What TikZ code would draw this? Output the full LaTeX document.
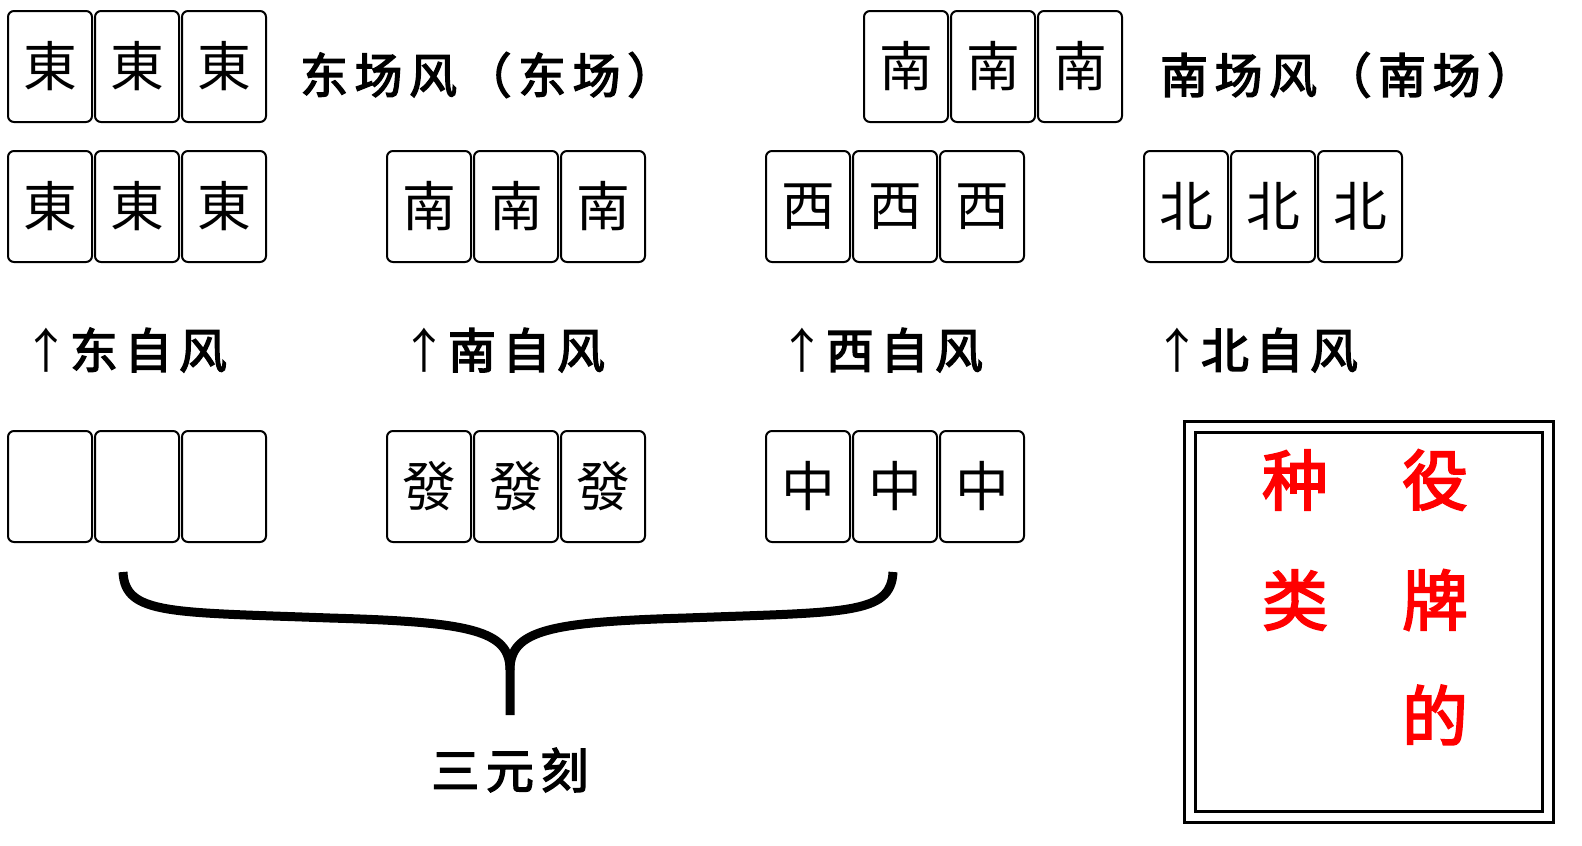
\documentclass[tikz,border=0pt]{standalone}
\usepackage{fontspec}
\newfontfamily\cjk{Noto Sans CJK SC}
\newfontfamily\cjkb{Noto Sans CJK SC}[FakeBold=3,LetterSpace=14]
\newfontfamily\cjkr{Noto Sans CJK SC}[FakeBold=3]
\newcommand\mjtri[4]{%
 \node[tile] (#1a) at (#2,#3) {#4};%
 \node[tile] (#1b) at (#2+87,#3) {#4};%
 \node[tile] (#1c) at (#2+174,#3) {#4};}
\begin{document}
\begin{tikzpicture}[x=1bp,y=-1bp,
 tile/.style={draw,line width=2bp,rounded corners=6bp,minimum width=84bp,minimum height=111bp,inner sep=0,font=\cjk\fontsize{54}{54}\selectfont,anchor=north west},
 lab/.style={font=\cjkb\fontsize{48}{48}\selectfont,anchor=west,inner sep=0},
 red/.style={font=\cjkr\fontsize{66}{66}\selectfont,text=red,inner sep=0}]
\mjtri{te}{7}{10}{東}
\node[lab] (lte) at (300,75) {东场风（东场）};
\mjtri{ts}{863}{10}{南}
\node[lab] (lts) at (1160,75) {南场风（南场）};
\mjtri{e}{7}{150}{東}
\mjtri{s}{386}{150}{南}
\mjtri{w}{765}{150}{西}
\mjtri{n}{1143}{150}{北}
\node[lab] (le) at (22,350) {{\cjk ↑}东自风};
\node[lab] (ls) at (400,350) {{\cjk ↑}南自风};
\node[lab] (lw) at (778,350) {{\cjk ↑}西自风};
\node[lab] (ln) at (1153,350) {{\cjk ↑}北自风};
\mjtri{h}{7}{430}{}
\mjtri{f}{386}{430}{發}
\mjtri{c}{765}{430}{中}
\draw[line width=9bp] (123,572) .. controls (125,615) and (170,612) .. (330,618) .. controls (470,622) and (510,630) .. (510,670) -- (510,715);
\draw[line width=9bp] (893,572) .. controls (891,615) and (846,612) .. (686,618) .. controls (550,622) and (510,630) .. (510,670);
\node[lab,anchor=center] (l3) at (510,770) {三元刻};
\draw[line width=3bp] (1184,421) rectangle (1553,822);
\draw[line width=3bp] (1195,432) rectangle (1542,811);
\node[red] (r1) at (1295,480) {种};
\node[red] (r2) at (1295,600) {类};
\node[red] (r3) at (1435,480) {役};
\node[red] (r4) at (1435,600) {牌};
\node[red] (r5) at (1435,715) {的};
\pgfresetboundingbox
\path[use as bounding box] (0,0) rectangle (1582,845);
\end{tikzpicture}
\end{document}
